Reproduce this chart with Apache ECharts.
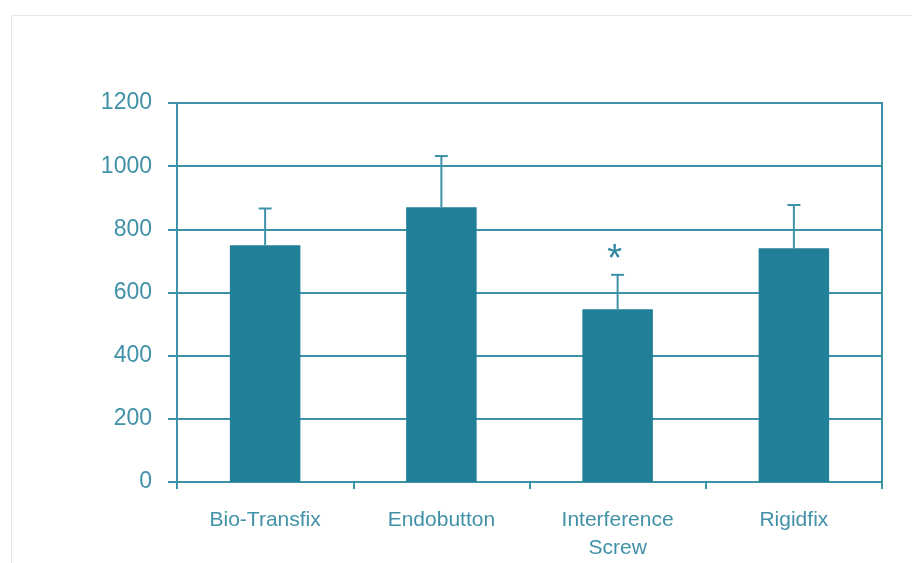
<!DOCTYPE html>
<html>
<head>
<meta charset="utf-8">
<script src="https://cdn.jsdelivr.net/npm/echarts@6/dist/echarts.min.js"></script>
<style>
  html, body { margin: 0; padding: 0; background: #fff; }
  #chart { width: 912px; height: 563px; }
</style>
</head>
<body>
<div id="chart"></div>
<script>
const categories = ['Bio-Transfix', 'Endobutton', 'Interference\nScrew', 'Rigidfix'];
const means = [750, 870, 547, 740];
const errorTops = [866, 1032, 656, 877];
const marks = ['', '', '*', ''];
const yTicks = [0, 200, 400, 600, 800, 1000, 1200];

const barColor = '#227f98';
const lineColor = '#3c93a9';
const textColor = '#4191a8';
const font = '"Liberation Sans", Arial, sans-serif';

const chart = echarts.init(document.getElementById('chart'));

const option = {
  animation: false,
  backgroundColor: '#fff',
  graphic: [{
    type: 'rect',
    left: 9, top: 13,
    shape: { width: 1000, height: 1000 },
    style: { fill: 'none', stroke: '#dfeaec', lineWidth: 1 },
    silent: true
  }],
  grid: {
    left: 177, right: 30, top: 103, bottom: 81,
    show: true,
    borderColor: lineColor,
    borderWidth: 2
  },
  xAxis: {
    type: 'category',
    data: categories,
    axisLine: { lineStyle: { color: lineColor, width: 2 } },
    axisTick: { show: true, length: 7, lineStyle: { color: lineColor, width: 2 } },
    axisLabel: {
      color: textColor, fontFamily: font, fontSize: 21,
      lineHeight: 28, margin: 24, interval: 0
    }
  },
  yAxis: {
    type: 'value',
    min: yTicks[0],
    max: yTicks[yTicks.length - 1],
    interval: 200,
    axisLine: { show: true, lineStyle: { color: lineColor, width: 2 } },
    axisTick: { show: true, length: 9, lineStyle: { color: lineColor, width: 2 } },
    axisLabel: {
      color: textColor, fontFamily: font, fontSize: 23, margin: 25,
      formatter: v => String(v)
    },
    splitLine: { show: true, lineStyle: { color: lineColor, width: 2 } }
  },
  series: [
    {
      type: 'bar',
      data: means,
      barWidth: '40%',
      itemStyle: { color: barColor },
      z: 2
    },
    {
      type: 'custom',
      z: 3,
      data: categories.map((c, i) => [i, means[i], errorTops[i]]),
      renderItem: function (params, api) {
        const base = api.coord([api.value(0), api.value(1)]);
        const top = api.coord([api.value(0), api.value(2)]);
        const half = 6.5;
        const children = [
          { type: 'line', shape: { x1: base[0], y1: base[1], x2: top[0], y2: top[1] },
            style: { stroke: lineColor, lineWidth: 2 } },
          { type: 'line', shape: { x1: top[0] - half, y1: top[1], x2: top[0] + half, y2: top[1] },
            style: { stroke: lineColor, lineWidth: 2 } }
        ];
        const mark = marks[params.dataIndex];
        if (mark) {
          children.push({
            type: 'text',
            style: {
              text: mark, x: top[0] - 3, y: top[1] + 5,
              fill: '#2f88a0', font: '38px ' + font,
              align: 'center', verticalAlign: 'bottom'
            }
          });
        }
        return { type: 'group', children: children };
      }
    }
  ]
};

chart.setOption(option);
</script>
</body>
</html>
